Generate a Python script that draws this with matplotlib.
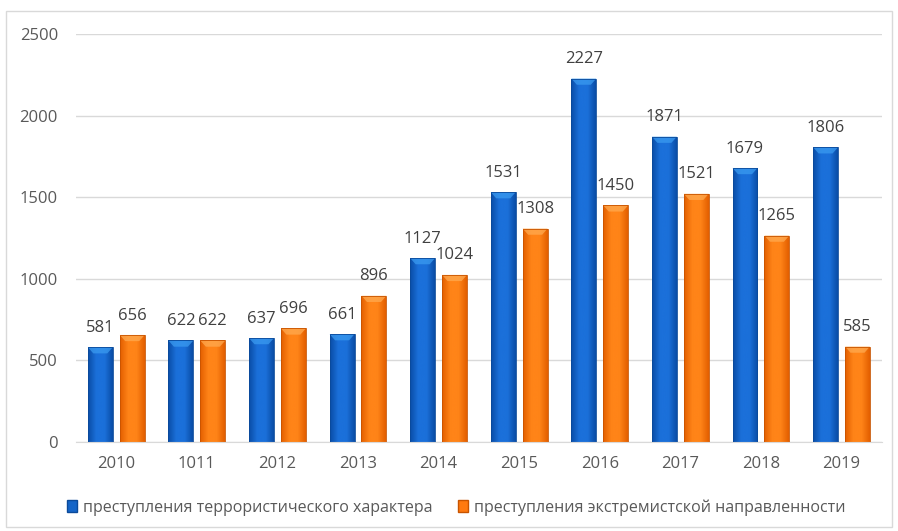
#!/usr/bin/env python3
"""
Terrorist vs extremist crimes by year, grouped bar chart.
"""

import matplotlib

matplotlib.use("Agg")
import matplotlib.pyplot as plt
import numpy as np
from matplotlib.colors import LinearSegmentedColormap
from matplotlib.patches import Patch, Polygon, Rectangle

years = ["2010", "1011", "2012", "2013", "2014", "2015", "2016", "2017", "2018", "2019"]
terror = [581, 622, 637, 661, 1127, 1531, 2227, 1871, 1679, 1806]
extrem = [656, 622, 696, 896, 1024, 1308, 1450, 1521, 1265, 585]
series_names = [
    "преступления террористического характера",
    "преступления экстремистской направленности",
]
yticks = [0, 500, 1000, 1500, 2000, 2500]

TEXT = "#595959"
plt.rcParams["font.family"] = ["Open Sans", "DejaVu Sans"]


def shade_bars(ax, bars, edge, mid, top):
    # Horizontal gradient (darker sides, brighter middle) plus a light bevel on top.
    cmap = LinearSegmentedColormap.from_list("g", [edge, mid, mid, edge])
    grad = np.linspace(0, 1, 64).reshape(1, -1)
    for bar in bars:
        x, y = bar.get_x(), bar.get_y()
        w, h = bar.get_width(), bar.get_height()
        im = ax.imshow(grad, cmap=cmap, extent=(x, x + w, y, y + h),
                       aspect="auto", zorder=2, interpolation="bicubic")
        im.set_clip_path(bar)
        bar.set_facecolor("none")
        bevel = 38
        ax.add_patch(Polygon([(x, y + h), (x + w, y + h), (x + w * 0.78, y + h - bevel),
                              (x + w * 0.22, y + h - bevel)],
                             closed=True, facecolor=top, edgecolor="none", alpha=0.75, zorder=2.5))


fig = plt.figure(figsize=(8.98, 5.31), dpi=100)
fig.patches.append(Rectangle((0.007, 0.008), 0.986, 0.972, transform=fig.transFigure,
                             fill=False, edgecolor="#d9d9d9", linewidth=1.0))
ax = fig.add_axes([0.0846, 0.1676, 0.8974, 0.7684])

x = np.arange(len(years))
w = 0.31
gap = 0.043
b1 = ax.bar(x - w / 2 - gap, terror, w, color="#1565c8", edgecolor="#0b4a9a",
            linewidth=0.6, zorder=3, label=series_names[0])
b2 = ax.bar(x + w / 2 + gap, extrem, w, color="#ff7a10", edgecolor="#c85400",
            linewidth=0.6, zorder=3, label=series_names[1])
shade_bars(ax, b1, "#0a4da6", "#1b70da", "#3a9af0")
shade_bars(ax, b2, "#e35f00", "#ff8418", "#ffaa50")

for bars, vals in ((b1, terror), (b2, extrem)):
    for bar, v in zip(bars, vals):
        ax.text(bar.get_x() + bar.get_width() / 2, v + 70, str(v), ha="center",
                va="bottom", fontsize=12, color="#404040")

ax.set_xlim(-0.5, len(years) - 0.5)
ax.set_ylim(0, 2500)
ax.set_yticks(yticks)
ax.set_xticks(x)
ax.set_xticklabels(years)
ax.yaxis.grid(True, color="#d9d9d9", linewidth=1.0, zorder=0)
ax.set_axisbelow(True)
for side in ("top", "right", "left"):
    ax.spines[side].set_visible(False)
ax.spines["bottom"].set_color("#d9d9d9")
ax.tick_params(axis="both", length=0, labelsize=12, labelcolor=TEXT)
ax.tick_params(axis="y", pad=13)
ax.tick_params(axis="x", pad=10)

handles = [Patch(facecolor="#1565c8", edgecolor="#0b4a9a"),
           Patch(facecolor="#ff7a10", edgecolor="#c85400")]
fig.legend(handles, series_names, loc="center", bbox_to_anchor=(0.508, 0.044),
           ncol=2, frameon=False, fontsize=11.5, labelcolor=TEXT,
           handlelength=0.6, handleheight=0.8, handletextpad=0.4, columnspacing=1.6)

print("Saving plot to out.png")
fig.savefig("out.png", dpi=100)
plt.close(fig)
